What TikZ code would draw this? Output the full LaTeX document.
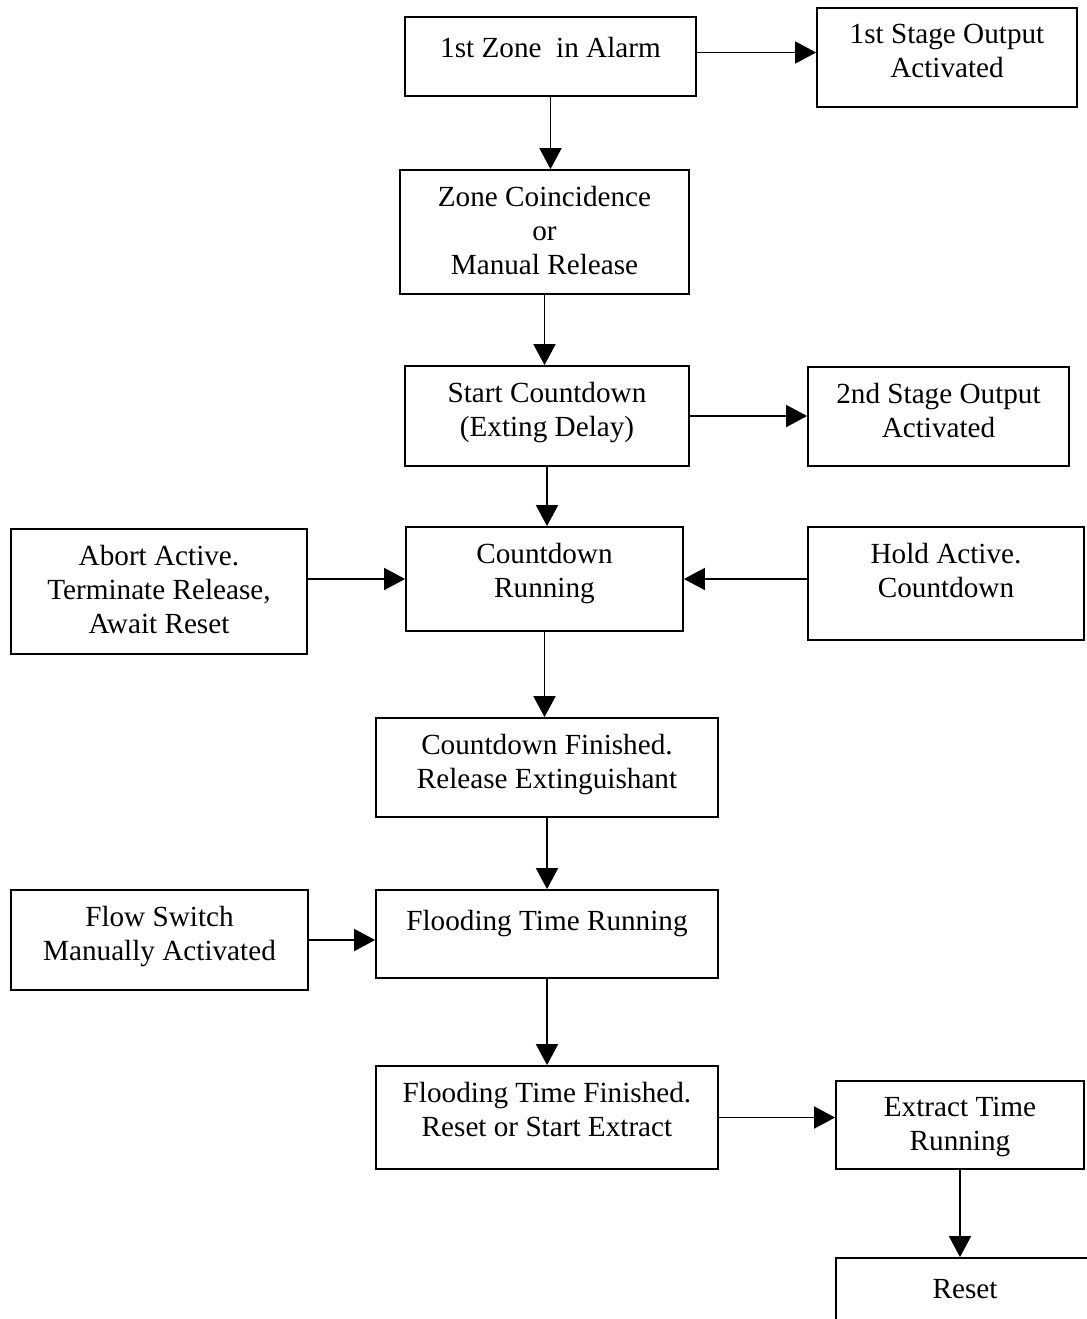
\documentclass[tikz,border=0pt]{standalone}
\usepackage{fontspec}
\setmainfont{Liberation Serif}
\usetikzlibrary{arrows.meta,positioning}

\begin{document}
\begin{tikzpicture}[
    x=0.5pt, y=-0.5pt,
    box/.style={draw, line width=0.9pt, inner sep=0pt},
    txt/.style={anchor=north, align=center, inner sep=0pt, yshift=-8.5pt,
        font=\fontsize{14.6}{17}\selectfont, execute at begin node=\strut},
    arr/.style={line width=0.9pt, -{Triangle[length=10.5pt, width=11pt]}}
]

% Page frame
\clip (0,0) rectangle (1087,1319);

% Main column
\node[box, minimum width=145.5pt, minimum height=39.5pt] (zone) at (550.5, 56.5) {};
\node[box, minimum width=144.5pt, minimum height=62pt] (coinc) at (544.5, 232) {};
\node[box, minimum width=142pt, minimum height=50pt] (start) at (547, 416) {};
\node[box, minimum width=138.5pt, minimum height=52pt] (run) at (544.5, 579) {};
\node[box, minimum width=171pt, minimum height=49.5pt] (done) at (547, 767.5) {};
\node[box, minimum width=171pt, minimum height=44pt] (flood) at (547, 934) {};
\node[box, minimum width=171pt, minimum height=51.5pt] (floodend) at (547, 1117.5) {};

% Side boxes
\node[box, minimum width=130pt, minimum height=49.5pt] (stage1) at (947, 57.5) {};
\node[box, minimum width=130.5pt, minimum height=49.5pt] (stage2) at (938.5, 416.5) {};
\node[box, minimum width=148pt, minimum height=62.5pt] (abort) at (159, 591.5) {};
\node[box, minimum width=138pt, minimum height=56.5pt] (hold) at (946, 583.5) {};
\node[box, minimum width=148.5pt, minimum height=50pt] (flow) at (159.5, 940) {};
\node[box, minimum width=124pt, minimum height=44pt] (extract) at (960, 1125) {};
\node[box, minimum width=129pt, minimum height=50pt] (reset) at (965, 1308) {};

% Texts
\node[txt] at (zone.north) {1st Zone\ \ in Alarm};
\node[txt] at (coinc.north) {Zone Coincidence\\or\\Manual Release};
\node[txt] at (start.north) {Start Countdown\\(Exting Delay)};
\node[txt] at (run.north) {Countdown\\Running};
\node[txt] at (done.north) {Countdown Finished.\\Release Extinguishant};
\node[txt] at (flood.north) {Flooding Time Running};
\node[txt] at (floodend.north) {Flooding Time Finished.\\Reset or Start Extract};
\node[txt] at (stage1.north) {1st Stage Output\\Activated};
\node[txt] at (stage2.north) {2nd Stage Output\\Activated};
\node[txt] at (abort.north) {Abort Active.\\Terminate Release,\\Await Reset};
\node[txt] at (hold.north) {Hold Active.\\Countdown};
\node[txt] at (flow.north) {Flow Switch\\Manually Activated};
\node[txt] at (extract.north) {Extract Time\\Running};
\node[txt] at (reset.north) {Reset};

% Arrows
\draw[arr] (zone.south) -- (zone.south |- coinc.north);
\draw[arr] (coinc.south) -- (coinc.south |- start.north);
\draw[arr] (start.south) -- (start.south |- run.north);
\draw[arr] (run.south) -- (run.south |- done.north);
\draw[arr] (done.south) -- (done.south |- flood.north);
\draw[arr] (flood.south) -- (flood.south |- floodend.north);
\draw[arr] ([yshift=2pt]zone.east) -- ([yshift=2pt]zone.east -| stage1.west);
\draw[arr] (start.east) -- (start.east -| stage2.west);
\draw[arr] (run.west -| abort.east) -- (run.west);
\draw[arr] (run.east -| hold.west) -- (run.east);
\draw[arr] (flow.east) -- (flow.east -| flood.west);
\draw[arr] (floodend.east) -- (floodend.east -| extract.west);
\draw[arr] (extract.south) -- (extract.south |- reset.north);

\end{tikzpicture}
\end{document}
